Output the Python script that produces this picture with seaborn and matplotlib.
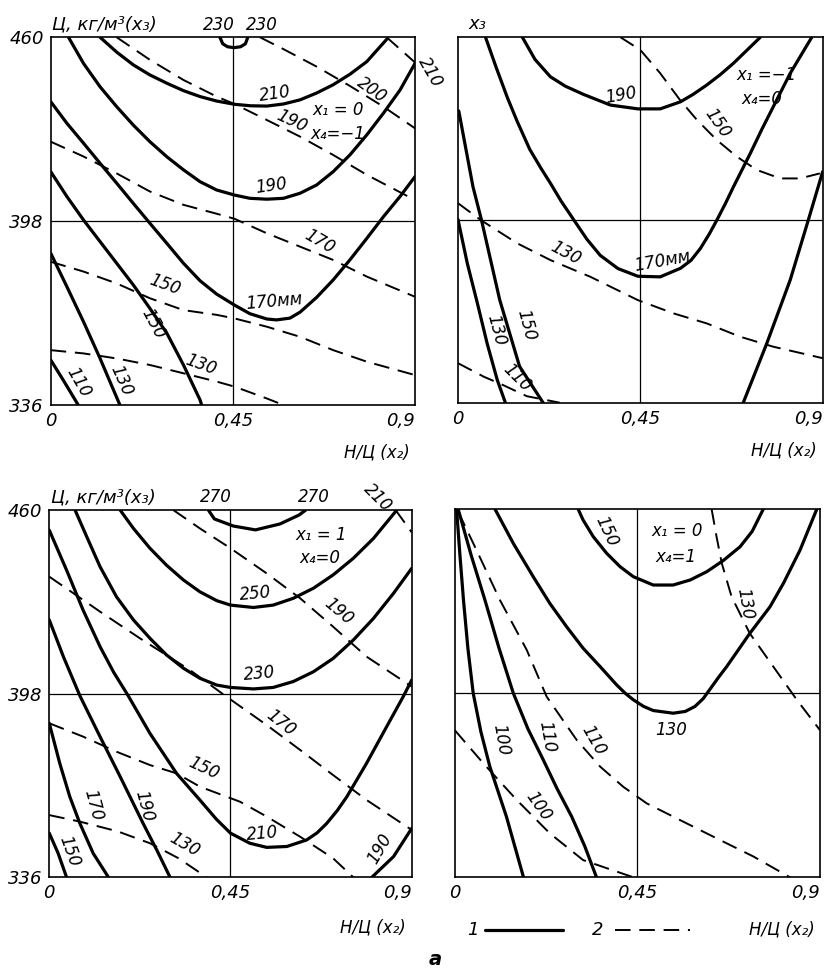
import matplotlib
matplotlib.use("Agg")
import matplotlib.pyplot as plt
import pandas as pd
import seaborn as sns

# ---------------- axis data ----------------
X_TICKS = [0, 0.45, 0.9]
X_TICK_LABELS = ["0", "0,45", "0,9"]
Y_TICKS = [336, 398, 460]
Y_TICK_LABELS = ["336", "398", "460"]
X_MID = 0.45
Y_MID = 398

# ---------------- top-left panel (x1=0, x4=-1) ----------------
TL_S230 = [(0.418, 460), (0.425, 457.8), (0.437, 456.8), (0.453, 456.5), (0.469, 456.8), (0.481, 457.8), (0.487, 460)]
TL_S210 = [(0.122, 460), (0.163, 455.0), (0.204, 450.7), (0.245, 447.3), (0.287, 444.5), (0.328, 442.0),
           (0.369, 440.0), (0.410, 438.5), (0.454, 437.4), (0.494, 436.9), (0.534, 436.8), (0.575, 437.5),
           (0.616, 438.9), (0.657, 441.2), (0.698, 444.0), (0.740, 447.6), (0.781, 451.8), (0.830, 459.3)]
TL_S190 = [(0.044, 460), (0.081, 451.2), (0.122, 443.3), (0.163, 436.6), (0.204, 430.4), (0.245, 424.8),
           (0.287, 419.7), (0.328, 415.3), (0.369, 411.3), (0.410, 408.5), (0.454, 406.8), (0.492, 405.7),
           (0.534, 405.4), (0.575, 405.7), (0.616, 407.4), (0.657, 410.2), (0.698, 414.7), (0.739, 420.3),
           (0.781, 427.1), (0.822, 434.4), (0.863, 442.2), (0.9, 451.2)]
TL_S170 = [(0, 438.3), (0.040, 431.0), (0.081, 424.3), (0.122, 417.5), (0.163, 410.8), (0.204, 404.0),
           (0.245, 397.3), (0.287, 390.5), (0.328, 383.8), (0.369, 377.9), (0.410, 373.4), (0.454, 369.7),
           (0.492, 366.8), (0.534, 365.0), (0.558, 364.7), (0.591, 365.3), (0.616, 367.3), (0.657, 372.3),
           (0.698, 378.2), (0.739, 384.9), (0.781, 392.2), (0.822, 399.5), (0.863, 406.3), (0.9, 413.0)]
TL_S150 = [(0, 414.7), (0.040, 406.3), (0.081, 398.4), (0.122, 391.1), (0.163, 383.8), (0.204, 376.5),
           (0.245, 368.6), (0.287, 360.2), (0.328, 349.5), (0.369, 337.7), (0.373, 336)]
TL_S130 = [(0, 387.2), (0.040, 375.9), (0.081, 364.1), (0.122, 351.7), (0.171, 336)]
TL_S110 = [(0, 351.2), (0.031, 344.4), (0.068, 336)]

TL_D210 = [(0.830, 460), (0.9, 451.5)]
TL_D200 = [(0.517, 460), (0.575, 456.0), (0.657, 450.1), (0.739, 443.6), (0.822, 436.6), (0.9, 429.3)]
TL_D190 = [(0.163, 460), (0.245, 452.4), (0.328, 445.6), (0.410, 440.0), (0.454, 437.5), (0.534, 432.1),
           (0.616, 426.5), (0.698, 420.3), (0.781, 413.6), (0.9, 405.1)]
TL_D170 = [(0, 424.8), (0.081, 419.8), (0.163, 414.1), (0.245, 408.0), (0.328, 403.5), (0.410, 400.5),
           (0.454, 398.8), (0.534, 393.9), (0.616, 389.4), (0.698, 384.9), (0.781, 379.3), (0.9, 372.5)]
TL_D150 = [(0, 384.3), (0.081, 381.0), (0.163, 377.0), (0.245, 372.0), (0.328, 368.0), (0.410, 366.4),
           (0.454, 365.2), (0.534, 362.4), (0.616, 359.0), (0.698, 354.5), (0.781, 350.6), (0.9, 346.1)]
TL_D130 = [(0, 354.5), (0.081, 353.4), (0.163, 351.7), (0.245, 349.5), (0.328, 346.7), (0.410, 343.9),
           (0.454, 342.2), (0.534, 338.2), (0.575, 336)]

TL_LABELS = [("210", 0.554, 441.0, 8), ("x₁ = 0", 0.71, 435.5, 0), ("x₄=−1", 0.71, 427.3, 0),
             ("190", 0.595, 431.6, -25), ("200", 0.793, 442.2, -35), ("190", 0.546, 409.8, 8),
             ("170", 0.664, 391.1, -30), ("170мм", 0.552, 371.0, 5), ("150", 0.282, 376.5, -20),
             ("150", 0.252, 363.5, -62), ("130", 0.371, 349.5, -20), ("130", 0.175, 344.4, -66),
             ("110", 0.068, 343.5, -60), ("230", 0.416, 464.3, 0), ("230", 0.522, 464.3, 0),
             ("210", 0.937, 448.3, -60)]

# ---------------- top-right panel (x1=-1, x4=0) ----------------
TR_S190 = [(0.159, 460), (0.190, 452.5), (0.228, 446.6), (0.265, 443.4), (0.310, 440.6), (0.376, 437.0),
           (0.444, 435.7), (0.499, 435.7), (0.549, 438.1), (0.580, 440.6), (0.614, 443.8), (0.648, 447.4),
           (0.680, 451.2), (0.746, 460)]
TR_S170 = [(0.068, 460), (0.095, 449.5), (0.122, 439.5), (0.146, 431.5), (0.177, 422.0), (0.205, 415.5),
           (0.228, 410.5), (0.255, 404.3), (0.286, 398.0), (0.318, 391.5), (0.351, 386.0), (0.395, 381.5),
           (0.444, 378.9), (0.499, 378.7), (0.549, 381.6), (0.575, 384.3), (0.598, 388.3), (0.620, 393.2),
           (0.639, 398.0), (0.660, 403.6), (0.680, 409.3), (0.721, 420.5), (0.750, 428.8), (0.778, 436.4),
           (0.820, 447.8), (0.873, 460)]
TR_S150 = [(0.002, 435), (0.037, 409.3), (0.058, 398.0), (0.103, 370.9), (0.152, 348.3), (0.210, 336)]
TR_S130 = [(0, 398.2), (0.023, 383.3), (0.048, 369.7), (0.072, 356.1), (0.097, 343.7), (0.117, 336)]
TR_SRIGHT = [(0.9, 414.4), (0.865, 398.2), (0.820, 377.7), (0.762, 356.1), (0.704, 336)]

TR_D150 = [(0.401, 460), (0.450, 455.7), (0.499, 447.8), (0.548, 438.7), (0.590, 431.9), (0.639, 425.1),
           (0.688, 419.5), (0.737, 415.0), (0.795, 412.1), (0.844, 412.1), (0.893, 413.8)]
TR_D130 = [(0, 403.7), (0.056, 398.0), (0.146, 390.1), (0.228, 384.4), (0.327, 378.7), (0.444, 370.8),
           (0.532, 366.3), (0.614, 362.9), (0.696, 358.4), (0.778, 355.0), (0.9, 351.1)]
TR_D110 = [(0, 349.4), (0.064, 344.8), (0.111, 342.0), (0.170, 338.2), (0.251, 336)]

TR_LABELS = [("190", 0.402, 440.4, 10), ("x₁ =−1", 0.762, 447.2, 0), ("x₄=0", 0.750, 439.0, 0),
             ("150", 0.640, 430.8, -55), ("130", 0.265, 386.7, -28), ("170мм", 0.505, 384.2, 10),
             ("150", 0.169, 362.4, -75), ("130", 0.095, 360.7, -75), ("110", 0.145, 344.3, -45)]

# ---------------- bottom-left panel (x1=1, x4=0) ----------------
BL_S270 = [(0.395, 460), (0.41, 457.0), (0.457, 454.6), (0.512, 453.3), (0.573, 455.3), (0.62, 458.3), (0.637, 460)]
BL_S250 = [(0.176, 460), (0.209, 453.8), (0.250, 447.1), (0.291, 441.4), (0.333, 436.4), (0.374, 432.4),
           (0.416, 429.4), (0.450, 427.9), (0.507, 427.1), (0.556, 427.9), (0.606, 430.2), (0.656, 433.6),
           (0.705, 438.1), (0.755, 443.7), (0.805, 450.4), (0.863, 460)]
BL_S230 = [(0.064, 460), (0.093, 451.0), (0.126, 440.9), (0.167, 430.7), (0.209, 422.9), (0.250, 416.7),
           (0.291, 411.1), (0.333, 406.6), (0.374, 403.2), (0.416, 400.9), (0.450, 400.1), (0.507, 399.6),
           (0.556, 400.1), (0.606, 402.1), (0.656, 405.4), (0.705, 409.9), (0.755, 416.1), (0.805, 423.4),
           (0.855, 431.9), (0.9, 440.3)]
BL_S210 = [(0, 453.2), (0.043, 439.7), (0.084, 426.2), (0.126, 413.9), (0.160, 405.2), (0.196, 397.3),
           (0.250, 384.6), (0.316, 371.1), (0.374, 362.1), (0.415, 355.6), (0.450, 350.9), (0.498, 347.5),
           (0.540, 346.1), (0.590, 346.4), (0.639, 348.6), (0.665, 351.0), (0.689, 354.2), (0.715, 358.5),
           (0.739, 363.2), (0.788, 374.5), (0.838, 386.9), (0.879, 397.0), (0.9, 402.6)]
BL_S190 = [(0, 422.9), (0.035, 410.5), (0.076, 397.3), (0.126, 383.5), (0.176, 370.0), (0.233, 354.2),
           (0.267, 345.2), (0.300, 336)]
BL_S170 = [(0, 388.0), (0.026, 374.5), (0.051, 363.2), (0.076, 354.2), (0.109, 344.1), (0.147, 336)]
BL_S150 = [(0, 350.9), (0.022, 344.1), (0.043, 336)]
BL_S190R = [(0.9, 352.5), (0.855, 343.0), (0.801, 336)]

BL_D210 = [(0.86, 460), (0.9, 452.5)]
BL_D190 = [(0.308, 460), (0.374, 453.8), (0.450, 447.1), (0.540, 438.6), (0.623, 430.2), (0.705, 420.6),
           (0.788, 410.5), (0.9, 400.4)]
BL_D170 = [(0, 437.5), (0.060, 431.9), (0.126, 425.7), (0.225, 416.7), (0.349, 406.0), (0.440, 397.0),
           (0.540, 387.4), (0.623, 379.0), (0.705, 370.5), (0.788, 362.1), (0.9, 352.0)]
BL_D150 = [(0, 388.0), (0.084, 383.5), (0.167, 378.4), (0.250, 373.9), (0.316, 371.1), (0.374, 366.6),
           (0.474, 361.5), (0.540, 356.5), (0.623, 349.7), (0.705, 342.4), (0.755, 336)]
BL_D130 = [(0, 357.0), (0.076, 354.8), (0.170, 351.5), (0.250, 347.5), (0.320, 342.5), (0.391, 336)]

BL_LABELS = [("x₁ = 1", 0.676, 451.6, 0), ("x₄=0", 0.672, 443.7, 0), ("250", 0.511, 431.9, 5),
             ("190", 0.718, 425.7, -40), ("230", 0.522, 404.9, 5), ("170", 0.575, 388.0, -38),
             ("150", 0.383, 372.8, -25), ("210", 0.530, 350.9, 5), ("190", 0.820, 345.5, 60),
             ("170", 0.109, 360.4, -75), ("190", 0.235, 360.1, -75), ("150", 0.051, 344.7, -70),
             ("130", 0.337, 346.9, -30), ("270", 0.414, 464.3, 0), ("270", 0.656, 464.3, 0),
             ("210", 0.815, 464.3, -45)]

# ---------------- bottom-right panel (x1=0, x4=1) ----------------
BR_S150 = [(0.304, 460), (0.316, 456.4), (0.341, 450.8), (0.374, 445.2), (0.407, 440.7), (0.440, 437.3),
           (0.489, 434.5), (0.538, 434.5), (0.580, 436.2), (0.621, 439.0), (0.662, 442.8), (0.703, 447.4),
           (0.733, 452.6), (0.760, 460)]
BR_S130 = [(0.099, 460), (0.144, 448.5), (0.193, 437.3), (0.234, 428.3), (0.275, 420.5), (0.316, 413.2),
           (0.358, 407.0), (0.399, 400.8), (0.420, 398.0), (0.440, 395.8), (0.465, 393.6), (0.489, 392.2),
           (0.538, 391.3), (0.568, 391.9), (0.592, 393.6), (0.612, 396.2), (0.630, 399.6), (0.650, 403.4),
           (0.670, 407.0), (0.698, 412.5), (0.727, 418.2), (0.777, 427.2), (0.810, 435.1), (0.851, 446.3),
           (0.892, 460)]
BR_S110 = [(0.008, 460), (0.040, 444.5), (0.074, 429.4), (0.108, 413.5), (0.144, 398.0), (0.180, 386.0),
           (0.218, 375.5), (0.252, 365.8), (0.288, 356.4), (0.320, 346.5), (0.349, 336)]
BR_S100 = [(0.004, 460), (0.012, 445.0), (0.021, 429.4), (0.032, 413.0), (0.045, 398.0), (0.064, 385.0),
           (0.086, 373.3), (0.127, 356.4), (0.169, 336)]

BR_D110 = [(0.008, 459.2), (0.053, 446.3), (0.111, 429.4), (0.177, 412.6), (0.226, 396.9), (0.300, 382.3),
           (0.358, 373.3), (0.415, 366.5), (0.473, 360.9), (0.571, 354.2), (0.653, 348.6), (0.736, 343.0),
           (0.826, 336)]
BR_D100 = [(0, 385.5), (0.070, 374.4), (0.152, 362.1), (0.234, 350.8), (0.316, 341.8), (0.440, 336)]
BR_D130 = [(0.633, 460), (0.645, 450.8), (0.658, 441.8), (0.682, 430.6), (0.727, 418.2), (0.785, 407.0),
           (0.843, 395.8), (0.9, 385.6)]

BR_LABELS = [("x₁ = 0", 0.547, 452.7, 0), ("x₄=1", 0.545, 443.8, 0), ("150", 0.374, 452.5, -65),
             ("130", 0.715, 428.3, -80), ("130", 0.532, 385.6, 0), ("100", 0.113, 382.3, -80),
             ("110", 0.226, 383.4, -80), ("110", 0.341, 382.3, -60), ("100", 0.206, 359.8, -55)]

Y_AXIS_TITLE = "Ц, кг/м³(x₃)"
Y_AXIS_SHORT = "x₃"
X_AXIS_TITLE = "Н/Ц (x₂)"
LEGEND_TEXTS = ["1", "2"]
CAPTION = "а"

# ---------------- drawing ----------------
sns.set_theme(style="white")
plt.rcParams["font.family"] = ["DejaVu Sans"]
plt.rcParams["font.style"] = "italic"
plt.rcParams["text.color"] = "black"
plt.rcParams["xtick.color"] = "black"
plt.rcParams["ytick.color"] = "black"
plt.rcParams["axes.labelcolor"] = "black"

fig = plt.figure(figsize=(8.31, 9.68), dpi=100)

PANELS = [
    dict(rect=[0.061, 0.5816, 0.4384, 0.3799],
         solid=[TL_S230, TL_S210, TL_S190, TL_S170, TL_S150, TL_S130, TL_S110],
         dashed=[TL_D210, TL_D200, TL_D190, TL_D170, TL_D150, TL_D130],
         labels=TL_LABELS, ylab=True, title=Y_AXIS_TITLE, xt_y=-0.13),
    dict(rect=[0.5511, 0.5840, 0.4389, 0.3775],
         solid=[TR_S190, TR_S170, TR_S150, TR_S130, TR_SRIGHT],
         dashed=[TR_D150, TR_D130, TR_D110],
         labels=TR_LABELS, ylab=False, title=Y_AXIS_SHORT, xt_y=-0.13),
    dict(rect=[0.0593, 0.0937, 0.4361, 0.3794],
         solid=[BL_S270, BL_S250, BL_S230, BL_S210, BL_S190, BL_S170, BL_S150, BL_S190R],
         dashed=[BL_D210, BL_D190, BL_D170, BL_D150, BL_D130],
         labels=BL_LABELS, ylab=True, title=Y_AXIS_TITLE, xt_y=-0.138),
    dict(rect=[0.5475, 0.0937, 0.4392, 0.3801],
         solid=[BR_S150, BR_S130, BR_S110, BR_S100],
         dashed=[BR_D110, BR_D100, BR_D130],
         labels=BR_LABELS, ylab=False, title=None, xt_y=-0.143),
]


def to_frame(curves):
    rows = []
    for i, pts in enumerate(curves):
        for k, (x, y) in enumerate(pts):
            rows.append({"curve": i, "order": k, "x": x, "y": y})
    return pd.DataFrame(rows)


axes = []
for p in PANELS:
    ax = fig.add_axes(p["rect"])
    axes.append(ax)
    ax.axvline(X_MID, color="black", lw=0.9, zorder=1)
    ax.axhline(Y_MID, color="black", lw=0.9, zorder=1)
    sns.lineplot(data=to_frame(p["solid"]), x="x", y="y", units="curve", estimator=None,
                 sort=False, color="black", linewidth=2.3, legend=False, ax=ax)
    sns.lineplot(data=to_frame(p["dashed"]), x="x", y="y", units="curve", estimator=None,
                 sort=False, color="black", linewidth=1.4, linestyle=(0, (8, 4.5)),
                 legend=False, ax=ax)
    for ln in ax.lines:
        ln.set_solid_joinstyle("round")
        ln.set_solid_capstyle("round")
    ax.set_xlim(0, 0.9)
    ax.set_ylim(336, 460)
    ax.set_xlabel("")
    ax.set_ylabel("")
    ax.set_xticks(X_TICKS)
    ax.set_xticklabels(X_TICK_LABELS, fontsize=13)
    xl = ax.get_xticklabels()
    xl[-1].set_ha("right")
    ax.set_yticks(Y_TICKS)
    if p["ylab"]:
        ax.set_yticklabels(Y_TICK_LABELS, fontsize=13)
    else:
        ax.set_yticklabels([])
    ax.tick_params(length=0, pad=5, colors="black")
    for sp in ax.spines.values():
        sp.set_visible(True)
        sp.set_color("black")
        sp.set_linewidth(1.2)
    for txt, x, y, rot in p["labels"]:
        ax.text(x, y, txt, rotation=rot, ha="center", va="center", fontsize=12,
                rotation_mode="anchor", color="black")
    if p["title"]:
        ax.text(0.004 if p["ylab"] else 0.03, 1.035, p["title"], transform=ax.transAxes,
                ha="left", va="center", fontsize=13, color="black")
    ax.text(0.985, p["xt_y"], X_AXIS_TITLE, transform=ax.transAxes, ha="right",
            va="center", fontsize=12, color="black")

# legend key under the bottom-right panel
axb = axes[3]
axb.text(0.049, -0.143, LEGEND_TEXTS[0], transform=axb.transAxes, ha="center", va="center",
         fontsize=13, color="black")
axb.plot([0.082, 0.296], [-0.143, -0.143], transform=axb.transAxes, color="black", lw=2.3, clip_on=False)
axb.text(0.392, -0.143, LEGEND_TEXTS[1], transform=axb.transAxes, ha="center", va="center",
         fontsize=13, color="black")
axb.plot([0.438, 0.644], [-0.143, -0.143], transform=axb.transAxes, color="black", lw=1.4,
         linestyle=(0, (8, 4.5)), clip_on=False)

fig.text(0.524, 0.009, CAPTION, ha="center", va="center", fontsize=14, fontweight="bold", color="black")

fig.savefig("out.png", dpi=100, facecolor="white")
